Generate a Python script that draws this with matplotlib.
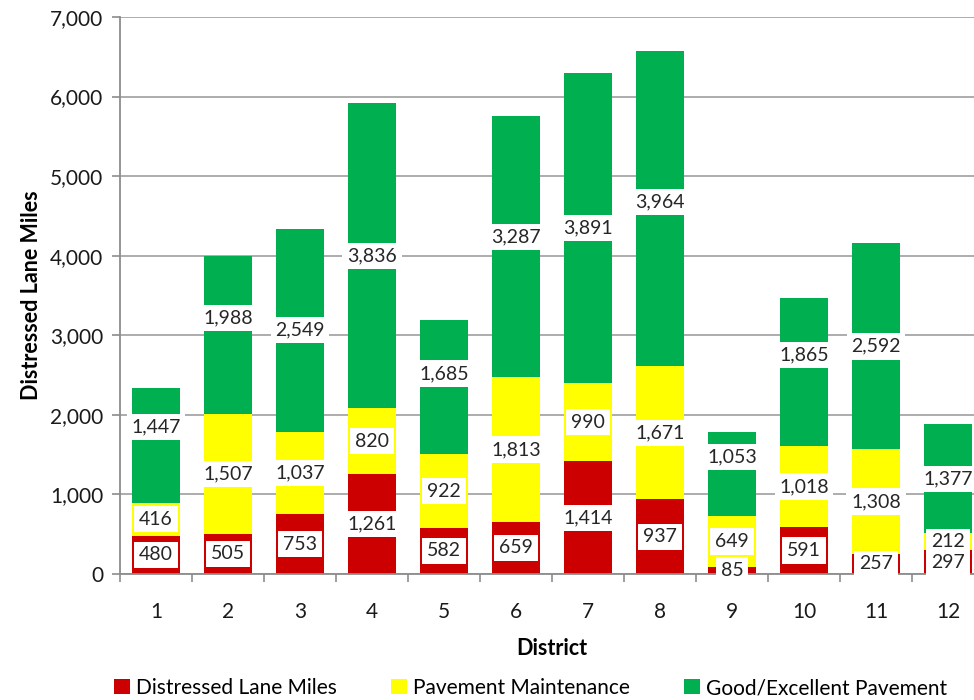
import numpy as np
import matplotlib
matplotlib.use("Agg")
import matplotlib.pyplot as plt
from matplotlib.ticker import FuncFormatter, MultipleLocator, FixedLocator

plt.rcParams['font.family'] = ['Lato', 'DejaVu Sans']

districts = ['1', '2', '3', '4', '5', '6', '7', '8', '9', '10', '11', '12']
distressed = [480, 505, 753, 1261, 582, 659, 1414, 937, 85, 591, 257, 297]
maintenance = [416, 1507, 1037, 820, 922, 1813, 990, 1671, 649, 1018, 1308, 212]
good = [1447, 1988, 2549, 3836, 1685, 3287, 3891, 3964, 1053, 1865, 2592, 1377]
series_names = ['Distressed Lane Miles', 'Pavement Maintenance', 'Good/Excellent Pavement']

colors = ['#CC0000', '#FFFF00', '#00B050']
# nudges (points) for a few green labels that sit above their segment centre
green_nudge = [13, 12, 0, 0, 10, 7, 0, 5, 12, 12, 0, 0]

fig = plt.figure(figsize=(9.74, 7.0), dpi=100)
ax = fig.add_axes([120 / 974, 1 - 574 / 700, 864 / 974, 557 / 700])

x = np.arange(1, len(districts) + 1)
bottom = np.zeros(len(districts))
for k, (vals, name) in enumerate(zip([distressed, maintenance, good], series_names)):
    vals = np.array(vals)
    ax.bar(x, vals, width=0.67, bottom=bottom, color=colors[k], label=name, zorder=2)
    for i, v in enumerate(vals):
        yc = bottom[i] + v / 2
        off = green_nudge[i] if k == 2 else 0
        # white box first, then the text on top so overlapping boxes don't hide numbers
        ax.annotate(f'{v:,}', (x[i], yc), xytext=(0, off), textcoords='offset points',
                    ha='center', va='center', fontsize=14, color='none', zorder=4,
                    bbox=dict(facecolor='white', edgecolor='none', pad=3.3))
        ax.annotate(f'{v:,}', (x[i], yc), xytext=(0, off), textcoords='offset points',
                    ha='center', va='center', fontsize=14, color='#262626', zorder=6)
    bottom = bottom + vals

ax.set_xlim(0.5, 12.5)
ax.set_ylim(0, 7000)
ax.yaxis.set_major_locator(MultipleLocator(1000))
ax.yaxis.set_major_formatter(FuncFormatter(lambda v, p: f'{int(v):,}'))
ax.set_xticks(x)
ax.set_xticklabels(districts)
ax.xaxis.set_minor_locator(FixedLocator(np.arange(0.5, 13, 1)))
ax.tick_params(axis='x', which='major', length=0, pad=20, labelsize=15, labelcolor='#1a1a1a')
ax.tick_params(axis='x', which='minor', length=6, width=1.2, color='#8c8c8c', direction='out')
ax.tick_params(axis='y', length=6, width=1.2, color='#8c8c8c', labelsize=15,
               labelcolor='#1a1a1a', pad=6)

ax.grid(axis='y', color='#a6a6a6', linewidth=1.3, zorder=0)
ax.set_axisbelow(True)
for s in ['top', 'right']:
    ax.spines[s].set_visible(False)
for s in ['left', 'bottom']:
    ax.spines[s].set_color('#8c8c8c')
    ax.spines[s].set_linewidth(1.3)

ax.set_ylabel('Distressed Lane Miles', fontsize=15.5, fontweight='bold', labelpad=6)
ax.set_xlabel('District', fontsize=15.5, fontweight='bold', labelpad=12)

fig.legend(loc='center', bbox_to_anchor=(0.545, 0.017), ncol=3, frameon=False,
           fontsize=15, handlelength=0.75, handleheight=0.75, handletextpad=0.3,
           columnspacing=2.6)

fig.savefig('out.png', dpi=100)
